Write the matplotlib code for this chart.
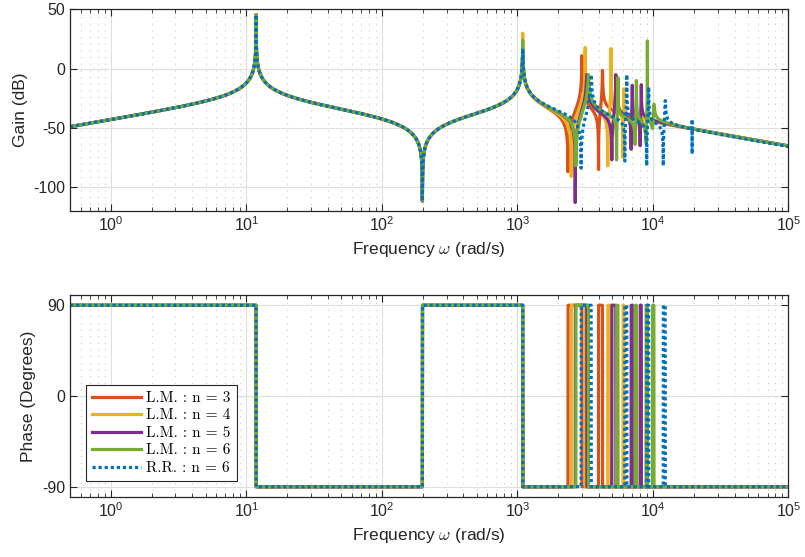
import numpy as np
import matplotlib.pyplot as plt
from matplotlib.ticker import LogLocator, NullFormatter, FixedLocator

plt.rcParams['font.family'] = ['Liberation Sans', 'DejaVu Sans']
plt.rcParams['axes.unicode_minus'] = False

# series
labels = ["L.M. : n = 3", "L.M. : n = 4", "L.M. : n = 5", "L.M. : n = 6", "R.R. : n = 6"]
colors = ["#D95319", "#EDB120", "#7E2F8E", "#77AC30", "#0072BD"]

# common part: gain at 1 rad/s, modes shared by every model
gain_at_1 = -43.0                 # dB
res_common = [11.8, 1094.0]       # rad/s
anti_common = [199.0]             # rad/s
peak_res1 = 45.6                  # dB
dip_anti1 = -111.8                # dB
peak_res2 = [14.0, 30.0, 14.0, 24.0, 17.0]   # dB, one per series

# high frequency antiresonance / resonance pairs, one set per series
zeros_lm3 = [2360, 3965]
poles_lm3 = [2990, 4240]
dips_lm3 = [-87, -85]
peaks_lm3 = [11, -1.5]

zeros_lm4 = [2495, 4640, 6018]
poles_lm4 = [3162, 4910, 6078]
dips_lm4 = [-91, -82, -75]
peaks_lm4 = [18, 17, -17]

zeros_lm5 = [2670, 4970, 6902, 8042]
poles_lm5 = [3250, 5320, 7038, 8200]
dips_lm5 = [-113, -77, -68, -65]
peaks_lm5 = [-5, -5, -14, -13.5]

zeros_lm6 = [2700, 5388, 7379, 8893, 9930]
poles_lm6 = [3340, 5513, 7550, 9098, 10160]
dips_lm6 = [-82, -77, -64, -62, -50]
peaks_lm6 = [-5, -7.5, -10, 23.5, -30]

zeros_rr6 = [2950, 6197, 8990, 11911, 19450.0]
poles_rr6 = [3500, 6405, 9293, 12312, 19450.3]
dips_rr6 = [-84, -78, -82, -82, -72]
peaks_rr6 = [-5, -5, -15.5, -27, -42.7]

cluster = [(zeros_lm3, poles_lm3, dips_lm3, peaks_lm3),
           (zeros_lm4, poles_lm4, dips_lm4, peaks_lm4),
           (zeros_lm5, poles_lm5, dips_lm5, peaks_lm5),
           (zeros_lm6, poles_lm6, dips_lm6, peaks_lm6),
           (zeros_rr6, poles_rr6, dips_rr6, peaks_rr6)]


def response(w, zs, ps, dz, dp):
    w = np.asarray(w, dtype=float)
    h = 10 ** (gain_at_1 / 20) * 1j * w
    for z, d in zip(zs, dz):
        h = h * (1 - (w / z) ** 2 + 2j * d * w / z)
    for p, d in zip(ps, dp):
        h = h / (1 - (w / p) ** 2 + 2j * d * w / p)
    return h


def fit_damping(zs, ps, dips, peaks):
    # pick damping so the response hits the read peak / dip heights
    dz = [1e-3] * len(zs)
    dp = [1e-3] * len(ps)
    for _ in range(6):
        for i, z in enumerate(zs):
            h_excl = abs(response(z, zs, ps, dz, dp)) / (2 * dz[i])
            dz[i] = 10 ** (dips[i] / 20) / (2 * h_excl)
        for i, p in enumerate(ps):
            h_excl = abs(response(p, zs, ps, dz, dp)) * 2 * dp[i]
            dp[i] = h_excl / (2 * 10 ** (peaks[i] / 20))
    return dz, dp


fig = plt.figure(figsize=(8.05, 5.57), dpi=100)
ax1 = fig.add_axes([0.087, 0.6215, 0.8925, 0.3615])
ax2 = fig.add_axes([0.087, 0.108, 0.8925, 0.362])

w_grid = np.logspace(np.log10(0.5), 5, 30000)

for i in range(5):
    zc, pc, dc, pkc = cluster[i]
    zs = anti_common + zc
    ps = res_common + pc
    dips = [dip_anti1] + dc
    peaks = [peak_res1, peak_res2[i]] + pkc
    dz, dp = fit_damping(zs, ps, dips, peaks)

    # gain: lightly damped model, sampled on the resonances too
    w = np.unique(np.concatenate([w_grid, zs, ps]))
    mag = 20 * np.log10(np.abs(response(w, zs, ps, dz, dp)))
    # phase: undamped model -> +/-90 deg
    h0 = response(w_grid, zs, ps, [0] * len(zs), [0] * len(ps))
    ph = np.degrees(np.angle(h0))

    if i == 4:
        ls = (0, (1, 0.9))
    else:
        ls = '-'
    ax1.semilogx(w, mag, color=colors[i], lw=2.3, linestyle=ls)
    ax2.semilogx(w_grid, ph, color=colors[i], lw=2.3, linestyle=ls, label=labels[i])

for ax in [ax1, ax2]:
    ax.set_xlim(0.5, 1e5)
    ax.xaxis.set_major_locator(LogLocator(base=10, numticks=10))
    ax.xaxis.set_minor_locator(LogLocator(base=10, subs=np.arange(2, 10), numticks=20))
    ax.xaxis.set_minor_formatter(NullFormatter())
    ax.grid(True, which='major', color='#dedede', lw=0.8)
    ax.grid(True, which='minor', axis='x', color='#c8c8c8', lw=0.8, linestyle=(0, (1, 5)))
    ax.set_axisbelow(True)
    ax.tick_params(which='both', direction='in', top=True, right=True,
                   colors='#262626', labelsize=11.5)
    ax.tick_params(which='major', length=5, width=0.8)
    ax.tick_params(which='minor', length=3, width=0.6)
    for sp in ax.spines.values():
        sp.set_color('#262626')
        sp.set_linewidth(0.9)
    ax.set_xlabel(r"Frequency $\omega$ (rad/s)", fontsize=12.5, color='#262626',
                  math_fontfamily='cm', labelpad=4)

ax1.set_ylim(-120, 50)
ax1.yaxis.set_major_locator(FixedLocator([-100, -50, 0, 50]))
ax1.set_ylabel("Gain (dB)", fontsize=12.5, color='#262626')

ax2.set_ylim(-100, 100)
ax2.yaxis.set_major_locator(FixedLocator([-90, 0, 90]))
ax2.set_ylabel("Phase (Degrees)", fontsize=12.5, color='#262626')

leg = ax2.legend(loc='lower left', bbox_to_anchor=(0.022, 0.078), borderaxespad=0,
                 fancybox=False, framealpha=1, edgecolor='#262626',
                 handlelength=3.2, handletextpad=0.35, labelspacing=0.25, borderpad=0.4,
                 prop={'family': 'cmr10', 'size': 11})
leg.get_frame().set_linewidth(0.8)

fig.savefig('out.png', dpi=100)
